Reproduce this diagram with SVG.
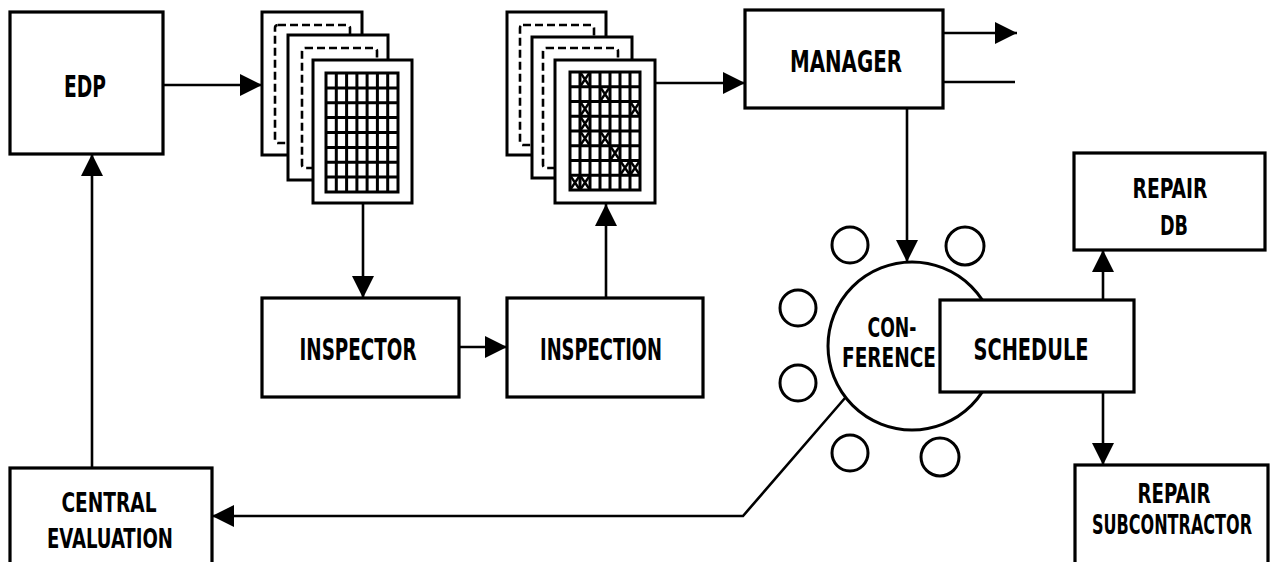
<svg xmlns="http://www.w3.org/2000/svg" width="1271" height="562" viewBox="0 0 1271 562">
<defs>
<marker id="ah" markerUnits="userSpaceOnUse" markerWidth="24" markerHeight="24" refX="22" refY="11" orient="auto">
<path d="M0,0 L22,11 L0,22 z" fill="#000"/>
</marker>
<style>
.box{fill:#fff;stroke:#000;stroke-width:3.2}
.sheet{fill:#fff;stroke:#000;stroke-width:3}
.dash{fill:none;stroke:#000;stroke-width:2.6;stroke-dasharray:8 4}
.grid{fill:none;stroke:#000;stroke-width:3}
.circ{fill:#fff;stroke:#000;stroke-width:3}
.con{fill:none;stroke:#000;stroke-width:2.6}
.x{stroke:#000;stroke-width:2.4}
text{font-family:"DejaVu Sans Condensed","DejaVu Sans",sans-serif;font-weight:bold;font-size:31px;text-anchor:middle;fill:#000}
.two{font-size:27px}
</style>
</defs>
<rect width="1271" height="562" fill="#fff"/>

<g id="edp">
<rect class="box" x="10" y="12" width="153" height="142"/>
<text x="85" y="97" textLength="42" lengthAdjust="spacingAndGlyphs">EDP</text>
</g>

<g id="sheets-blank">
<rect class="sheet" x="262" y="12" width="100" height="143"/>
<rect class="dash" x="275" y="25" width="75" height="118" rx="3"/>
<rect class="sheet" x="288" y="35" width="100" height="145"/>
<rect class="dash" x="302" y="48" width="75" height="120" rx="3"/>
<rect class="sheet" x="313" y="60" width="99" height="143"/>
<g class="grid">
<rect x="326" y="73" width="72" height="119"/>
<path d="M336.3,73V192M346.6,73V192M356.9,73V192M367.1,73V192M377.4,73V192M387.7,73V192"/>
<path d="M326,87.9H398M326,102.8H398M326,117.6H398M326,132.5H398M326,147.4H398M326,162.2H398M326,177.1H398"/>
</g>
</g>

<g id="sheets-marked">
<rect class="sheet" x="507" y="12" width="99" height="143"/>
<rect class="dash" x="520" y="25" width="74" height="120" rx="3"/>
<rect class="sheet" x="532" y="37" width="100" height="141"/>
<rect class="dash" x="543" y="48" width="75" height="120" rx="3"/>
<rect class="sheet" x="555" y="60" width="100" height="143"/>
<g class="grid">
<rect x="570" y="72" width="70" height="118"/>
<path d="M580,72V190M590,72V190M600,72V190M610,72V190M620,72V190M630,72V190"/>
<path d="M570,86.75H640M570,101.5H640M570,116.25H640M570,131H640M570,145.75H640M570,160.5H640M570,175.25H640"/>
</g>
<g class="x">
<path d="M580,72L590,86.75M590,72L580,86.75"/>
<path d="M600,86.75L610,101.5M610,86.75L600,101.5"/>
<path d="M580,101.5L590,116.25M590,101.5L580,116.25"/>
<path d="M630,101.5L640,116.25M640,101.5L630,116.25"/>
<path d="M580,116.25L590,131M590,116.25L580,131"/>
<path d="M580,131L590,145.75M590,131L580,145.75"/>
<path d="M600,131L610,145.75M610,131L600,145.75"/>
<path d="M610,145.75L620,160.5M620,145.75L610,160.5"/>
<path d="M620,160.5L630,175.25M630,160.5L620,175.25"/>
<path d="M630,160.5L640,175.25M640,160.5L630,175.25"/>
<path d="M570,175.25L580,190M580,175.25L570,190"/>
<path d="M580,175.25L590,190M590,175.25L580,190"/>
</g>
</g>

<g id="inspector">
<rect class="box" x="262" y="298" width="197" height="99"/>
<text x="358" y="360" textLength="117" lengthAdjust="spacingAndGlyphs">INSPECTOR</text>
</g>

<g id="inspection">
<rect class="box" x="507" y="298" width="196" height="99"/>
<text x="601" y="360" textLength="122" lengthAdjust="spacingAndGlyphs">INSPECTION</text>
</g>

<g id="manager">
<rect class="box" x="745" y="10" width="198" height="98"/>
<text x="846" y="72" textLength="112" lengthAdjust="spacingAndGlyphs">MANAGER</text>
</g>

<g id="conference">
<circle class="circ" cx="850" cy="245" r="18"/>
<circle class="circ" cx="965" cy="246" r="19"/>
<circle class="circ" cx="798" cy="308" r="18"/>
<circle class="circ" cx="798" cy="383" r="18"/>
<circle class="circ" cx="850" cy="453" r="18"/>
<circle class="circ" cx="940" cy="457" r="19"/>
<circle class="circ" cx="912" cy="346" r="84"/>
<text class="two" x="892" y="337" textLength="49" lengthAdjust="spacingAndGlyphs">CON-</text>
<text class="two" x="889" y="367" textLength="94" lengthAdjust="spacingAndGlyphs">FERENCE</text>
</g>

<g id="schedule">
<rect class="box" x="940" y="300" width="194" height="92"/>
<text x="1031" y="360" textLength="115" lengthAdjust="spacingAndGlyphs">SCHEDULE</text>
</g>

<g id="repair-db">
<rect class="box" x="1074" y="153" width="191" height="97"/>
<text class="two" x="1170" y="198" textLength="75" lengthAdjust="spacingAndGlyphs">REPAIR</text>
<text class="two" x="1174" y="235" textLength="28" lengthAdjust="spacingAndGlyphs">DB</text>
</g>

<g id="repair-subcontractor">
<rect class="box" x="1075" y="465" width="193" height="110"/>
<text class="two" x="1174" y="503" textLength="73" lengthAdjust="spacingAndGlyphs">REPAIR</text>
<text class="two" x="1172" y="534" textLength="160" lengthAdjust="spacingAndGlyphs">SUBCONTRACTOR</text>
</g>

<g id="central-evaluation">
<rect class="box" x="10" y="468" width="202" height="110"/>
<text class="two" x="109" y="512" textLength="95" lengthAdjust="spacingAndGlyphs">CENTRAL</text>
<text class="two" x="110" y="548" textLength="126" lengthAdjust="spacingAndGlyphs">EVALUATION</text>
</g>

<g id="connectors" class="con">
<path class="con" d="M163,85H262" marker-end="url(#ah)"/>
<path class="con" d="M363,203V298" marker-end="url(#ah)"/>
<path class="con" d="M459,347H507" marker-end="url(#ah)"/>
<path class="con" d="M606,298V204" marker-end="url(#ah)"/>
<path class="con" d="M655,83H745" marker-end="url(#ah)"/>
<path class="con" d="M943,33H1017" marker-end="url(#ah)"/>
<path class="con" d="M943,82H1015"/>
<path class="con" d="M907,108V262" marker-end="url(#ah)"/>
<path class="con" d="M1103,300V250" marker-end="url(#ah)"/>
<path class="con" d="M1103,392V465" marker-end="url(#ah)"/>
<path class="con" d="M845,398L743,516H212" marker-end="url(#ah)"/>
<path class="con" d="M92,468V154" marker-end="url(#ah)"/>
</g>
</svg>
